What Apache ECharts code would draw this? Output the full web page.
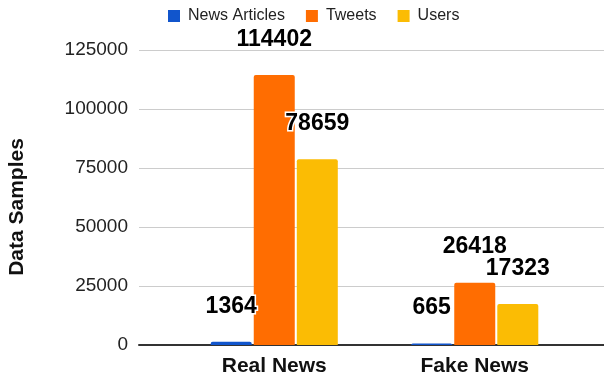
<!DOCTYPE html>
<html>
<head>
<meta charset="utf-8">
<script src="https://cdn.jsdelivr.net/npm/echarts@6/dist/echarts.min.js"></script>
<style>
  html, body { margin: 0; padding: 0; background: #fff; }
  #chart { width: 604px; height: 382px; }
</style>
</head>
<body>
<div id="chart"></div>
<script>
// Dataset sizes per news class
const categories = ['Real News', 'Fake News'];
const newsArticles = [1364, 665];
const tweets = [114402, 26418];
const users = [78659, 17323];
const seriesNames = ['News Articles', 'Tweets', 'Users'];
const yMax = 125000;
const yStep = 25000;

const FONT = '"Liberation Sans", Arial, sans-serif';
const colors = ['#1155cc', '#ff6d01', '#fbbc04'];

const chart = echarts.init(document.getElementById('chart'), null, { renderer: 'canvas' });

function barSeries(name, values, color) {
  return {
    name: name,
    type: 'bar',
    xAxisIndex: 1,
    yAxisIndex: 1,
    data: values,
    barWidth: 41,
    barGap: '5%',
    itemStyle: { color: color, borderRadius: [2, 2, 0, 0] },
    label: {
      show: true,
      position: 'top',
      distance: 24,
      fontFamily: FONT,
      fontSize: 23,
      fontWeight: 'bold',
      color: '#000',
      textBorderColor: '#fff',
      textBorderWidth: 3
    }
  };
}

chart.setOption({
  animation: false,
  color: colors,
  legend: {
    data: seriesNames,
    left: 168,
    top: 8,
    padding: 0,
    icon: 'rect',
    itemWidth: 12,
    itemHeight: 12,
    itemGap: 21,
    textStyle: { fontFamily: FONT, fontSize: 16, color: '#222', padding: [0, 0, 0, 3] }
  },
  grid: [
    // full-width frame: gridlines, tick labels and baseline
    { left: 139, right: 0, top: 50, bottom: 37 },
    // inner band holding the two category groups
    { left: 174, width: 401, top: 50, bottom: 37 }
  ],
  xAxis: [
    {
      gridIndex: 0,
      type: 'value',
      min: 0,
      max: 1,
      axisLine: { show: true, lineStyle: { color: '#333', width: 2 } },
      axisTick: { show: false },
      axisLabel: { show: false },
      splitLine: { show: false }
    },
    {
      gridIndex: 1,
      type: 'category',
      data: categories,
      axisLine: { show: false },
      axisTick: { show: false },
      axisLabel: {
        margin: 11,
        fontFamily: FONT,
        fontSize: 21,
        fontWeight: 'bold',
        color: '#111'
      }
    }
  ],
  yAxis: [
    {
      gridIndex: 0,
      type: 'value',
      min: 0,
      max: yMax,
      interval: yStep,
      axisLine: { show: false },
      axisTick: { show: false },
      axisLabel: {
        margin: 11,
        fontFamily: FONT,
        fontSize: 19,
        color: '#222',
        formatter: function (v) { return String(v); }
      },
      splitLine: { lineStyle: { color: '#cccccc', width: 1 } }
    },
    {
      gridIndex: 1,
      type: 'value',
      min: 0,
      max: yMax,
      interval: yStep,
      show: false,
      splitLine: { show: false }
    }
  ],
  graphic: [
    {
      type: 'text',
      x: 17,
      y: 207,
      rotation: Math.PI / 2,
      style: {
        text: 'Data Samples',
        align: 'center',
        verticalAlign: 'middle',
        fontFamily: FONT,
        fontSize: 21,
        fontWeight: 'bold',
        fill: '#111'
      }
    }
  ],
  series: [
    barSeries(seriesNames[0], newsArticles, colors[0]),
    barSeries(seriesNames[1], tweets, colors[1]),
    barSeries(seriesNames[2], users, colors[2])
  ]
});
</script>
</body>
</html>
